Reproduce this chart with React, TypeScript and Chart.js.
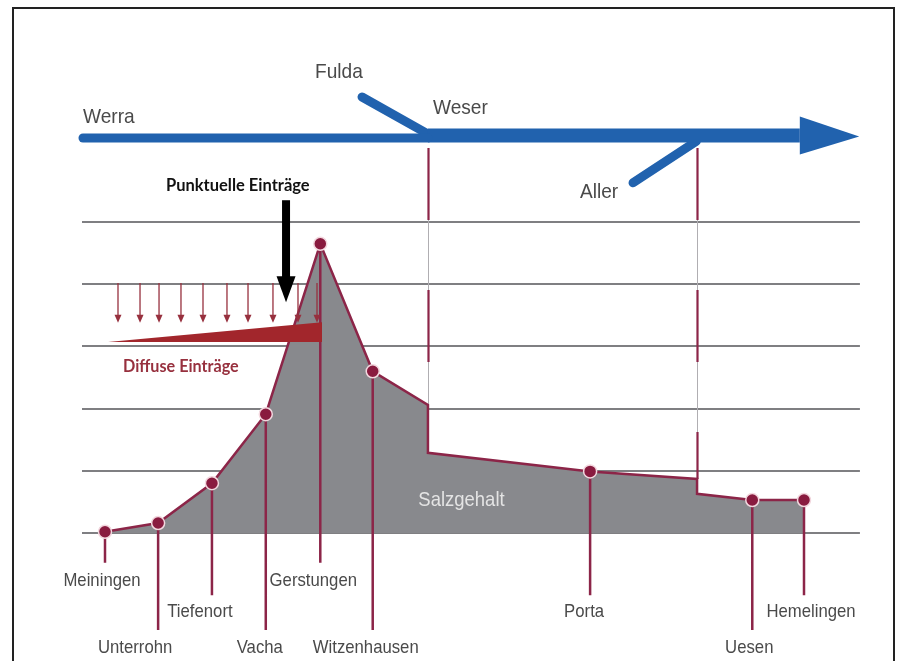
import React, { useEffect, useRef } from 'react';
import { Chart, registerables } from 'chart.js';

Chart.register(...registerables);

// ---------------- data ----------------
const stationNames = ['Meiningen', 'Unterrohn', 'Tiefenort', 'Vacha', 'Gerstungen', 'Witzenhausen', 'Porta', 'Uesen', 'Hemelingen'];
const stationKm = [0, 7.6, 15.3, 23.0, 30.8, 38.3, 69.4, 92.6, 100];
const stationSalt = [0.02, 0.16, 0.8, 1.91, 4.65, 2.6, 0.99, 0.53, 0.53];
const stationLabelRow = [0, 2, 1, 2, 0, 2, 1, 2, 1];

// salt profile incl. the steps at the confluences (Fulda, Aller)
const profileKm = [0, 7.6, 15.3, 23.0, 30.8, 38.3, 46.2, 46.2, 69.4, 84.7, 84.7, 92.6, 100];
const profileSalt = [0.02, 0.16, 0.8, 1.91, 4.65, 2.6, 2.06, 1.29, 0.99, 0.87, 0.63, 0.53, 0.53];

const confluenceKm = [46.2, 84.7];
const confluenceSaltBefore = [2.06, 0.87];

const gridLevels = [0, 1, 2, 3, 4, 5];

// schematic rivers
const werraKm = [-3.15, 46.2];
const werraLevel = [6.35, 6.35];
const weserKm = [46.2, 99.4];
const weserLevel = [6.39, 6.39];
const fuldaKm = [36.77, 46.1];
const fuldaLevel = [7.01, 6.42];
const allerKm = [75.54, 84.6];
const allerLevel = [5.63, 6.3];
const weserMouthKm = 107.9;

const riverNames = ['Werra', 'Fulda', 'Weser', 'Aller'];

// inputs
const diffuseArrowKm = [1.86, 5.01, 7.73, 10.87, 14.02, 17.45, 20.46, 24.03, 27.61, 30.33];
const diffuseWedgeKm = [0.43, 31.04];
const diffuseWedgeTop = [3.07, 3.39];
const pointLoadKm = 25.9;

// ---------------- layout / style ----------------
const W = 897;
const H = 661;
const PX_PER_KM = 6.99;
const PX_PER_UNIT = 62.2;
const X0_PX = 105;
const Y0_PX = 533;
const X_MIN = -X0_PX / PX_PER_KM;
const X_MAX = (W - X0_PX) / PX_PER_KM;
const Y_MIN = -(H - Y0_PX) / PX_PER_UNIT;
const Y_MAX = Y0_PX / PX_PER_UNIT;

const gridFromKm = -3.29;
const gridToKm = 108.0;
const confluenceMarkTop = 6.19;
const rowStemEnd = [-0.48, -1.0, -1.56];
const rowLabelY = [-0.76, -1.26, -1.84];
const stationLabelShiftPx = [-3, -23, -12, -6, -7, -7, -6, -3, 7];
const riverLabelPos = [
  { km: -3.15, v: 6.69 },
  { km: 30.04, v: 7.41 },
  { km: 46.92, v: 6.83 },
  { km: 67.95, v: 5.48 },
];
const salzPos = { km: 51.0, v: 0.53 };
const punktPos = { km: 19.0, v: 5.58 };
const diffusePos = { km: 2.58, v: 2.67 };
const diffuseArrowTop = 4.02;
const diffuseArrowBottom = 3.38;
const pointArrowTop = 5.35;
const pointArrowTip = 3.71;

const C = {
  maroon: '#8c2548',
  marker: '#891b3f',
  ring: '#f3d8df',
  area: '#88898d',
  grid: '#7f7f82',
  junction: '#b0aeb2',
  river: '#2162ae',
  text: '#4a4a4a',
  wedge: '#a2262c',
  diffuse: '#97303e',
  salz: '#e4e4e4',
};

const SANS = '"Liberation Sans", Arial, sans-serif';
const BOLD_FONT = 'bold 16.5px Lato, "Open Sans", sans-serif';

const pts = (xs: number[], ys: number[]) => xs.map((x, i) => ({ x, y: ys[i] }));

function condensedText(ctx: CanvasRenderingContext2D, text: string, x: number, y: number, align: CanvasTextAlign, sx: number) {
  ctx.save();
  ctx.translate(x, y);
  ctx.scale(sx, 1);
  ctx.textAlign = align;
  ctx.textBaseline = 'middle';
  ctx.fillText(text, 0, 0);
  ctx.restore();
}

const diagramPlugin = {
  id: 'diagram',
  beforeDatasetsDraw(chart: any) {
    const { ctx } = chart;
    const { x, y } = chart.scales;
    ctx.save();
    const gx0 = x.getPixelForValue(gridFromKm);
    const gx1 = x.getPixelForValue(gridToKm);
    ctx.strokeStyle = C.grid;
    ctx.lineWidth = 2;
    gridLevels.forEach((l) => {
      const py = Math.round(y.getPixelForValue(l));
      ctx.beginPath();
      ctx.moveTo(gx0, py);
      ctx.lineTo(gx1, py);
      ctx.stroke();
    });
    confluenceKm.forEach((k, i) => {
      const px = Math.round(x.getPixelForValue(k)) + 0.5;
      const top = y.getPixelForValue(confluenceMarkTop);
      const bot = y.getPixelForValue(confluenceSaltBefore[i]);
      ctx.setLineDash([]);
      ctx.strokeStyle = C.junction;
      ctx.lineWidth = 1;
      ctx.beginPath();
      ctx.moveTo(px, top);
      ctx.lineTo(px, bot);
      ctx.stroke();
      ctx.setLineDash([72, 70]);
      ctx.strokeStyle = C.maroon;
      ctx.lineWidth = 2.2;
      ctx.beginPath();
      ctx.moveTo(px, top);
      ctx.lineTo(px, bot);
      ctx.stroke();
    });
    ctx.restore();
  },
  afterDatasetsDraw(chart: any) {
    const { ctx } = chart;
    const { x, y } = chart.scales;
    ctx.save();

    // Weser arrow head
    const bx = x.getPixelForValue(weserKm[1]);
    const tx = x.getPixelForValue(weserMouthKm);
    const cy = y.getPixelForValue(weserLevel[1]);
    ctx.fillStyle = C.river;
    ctx.beginPath();
    ctx.moveTo(bx, cy - 19);
    ctx.lineTo(tx, cy + 1);
    ctx.lineTo(bx, cy + 19);
    ctx.closePath();
    ctx.fill();

    // diffuse wedge
    ctx.fillStyle = C.wedge;
    ctx.beginPath();
    ctx.moveTo(x.getPixelForValue(diffuseWedgeKm[0]), y.getPixelForValue(diffuseWedgeTop[0]));
    ctx.lineTo(x.getPixelForValue(diffuseWedgeKm[1]), y.getPixelForValue(diffuseWedgeTop[1]));
    ctx.lineTo(x.getPixelForValue(diffuseWedgeKm[1]), y.getPixelForValue(diffuseWedgeTop[0]));
    ctx.closePath();
    ctx.fill();

    // diffuse arrows
    ctx.strokeStyle = C.diffuse;
    ctx.fillStyle = C.diffuse;
    ctx.lineWidth = 1.3;
    const at = y.getPixelForValue(diffuseArrowTop);
    const ab = y.getPixelForValue(diffuseArrowBottom);
    diffuseArrowKm.forEach((k) => {
      const px = x.getPixelForValue(k);
      ctx.beginPath();
      ctx.moveTo(px, at);
      ctx.lineTo(px, ab - 6);
      ctx.stroke();
      ctx.beginPath();
      ctx.moveTo(px - 3.5, ab - 8);
      ctx.lineTo(px + 3.5, ab - 8);
      ctx.lineTo(px, ab);
      ctx.closePath();
      ctx.fill();
    });

    // point load arrow
    const px = x.getPixelForValue(pointLoadKm);
    const pt = y.getPixelForValue(pointArrowTop);
    const pb = y.getPixelForValue(pointArrowTip);
    ctx.fillStyle = '#000';
    ctx.fillRect(px - 4, pt, 8, pb - pt - 24);
    ctx.beginPath();
    ctx.moveTo(px - 9.5, pb - 26);
    ctx.lineTo(px + 9.5, pb - 26);
    ctx.lineTo(px, pb);
    ctx.closePath();
    ctx.fill();

    // texts
    ctx.fillStyle = C.text;
    ctx.font = `19px ${SANS}`;
    stationNames.forEach((n, i) => {
      condensedText(
        ctx,
        n,
        x.getPixelForValue(stationKm[i]) + stationLabelShiftPx[i],
        y.getPixelForValue(rowLabelY[stationLabelRow[i]]),
        'center',
        0.88,
      );
    });
    ctx.font = `21px ${SANS}`;
    riverNames.forEach((n, i) => {
      condensedText(ctx, n, x.getPixelForValue(riverLabelPos[i].km), y.getPixelForValue(riverLabelPos[i].v), 'left', 0.91);
    });
    ctx.fillStyle = C.salz;
    ctx.font = `21px ${SANS}`;
    condensedText(ctx, 'Salzgehalt', x.getPixelForValue(salzPos.km), y.getPixelForValue(salzPos.v), 'center', 0.88);

    ctx.font = BOLD_FONT;
    ctx.fillStyle = '#111';
    condensedText(ctx, 'Punktuelle Einträge', x.getPixelForValue(punktPos.km), y.getPixelForValue(punktPos.v), 'center', 1);
    ctx.fillStyle = C.diffuse;
    condensedText(ctx, 'Diffuse Einträge', x.getPixelForValue(diffusePos.km), y.getPixelForValue(diffusePos.v), 'left', 0.98);

    ctx.restore();
  },
};

export default function App() {
  const ref = useRef<HTMLCanvasElement>(null);
  useEffect(() => {
    const canvas = ref.current;
    if (!canvas) return;

    const stemData: { x: number; y: number | null }[] = [];
    stationKm.forEach((k, i) => {
      stemData.push({ x: k, y: stationSalt[i] });
      stemData.push({ x: k, y: rowStemEnd[stationLabelRow[i]] });
      stemData.push({ x: k, y: null });
    });

    const riverDs = (xs: number[], ys: number[], w: number, cap: CanvasLineCap) => ({
      type: 'line' as const,
      data: pts(xs, ys),
      borderColor: C.river,
      borderWidth: w,
      borderCapStyle: cap,
      pointRadius: 0,
      fill: false,
      tension: 0,
      clip: false as any,
      order: 3,
    });

    const chart = new Chart(canvas, {
      type: 'line',
      data: {
        datasets: [
          {
            data: pts(stationKm, stationSalt),
            showLine: false,
            pointRadius: 6.5,
            pointBackgroundColor: C.marker,
            pointBorderColor: C.ring,
            pointBorderWidth: 1.5,
            clip: false as any,
            order: 1,
          },
          {
            data: stemData as any,
            borderColor: C.maroon,
            borderWidth: 2.5,
            pointRadius: 0,
            spanGaps: false,
            fill: false,
            clip: false as any,
            order: 4,
          },
          riverDs(werraKm, werraLevel, 9, 'round'),
          riverDs(weserKm, weserLevel, 14, 'butt'),
          riverDs(fuldaKm, fuldaLevel, 9, 'round'),
          riverDs(allerKm, allerLevel, 9, 'round'),
          {
            data: pts(profileKm, profileSalt),
            borderColor: C.maroon,
            borderWidth: 2.5,
            backgroundColor: C.area,
            fill: 'origin',
            pointRadius: 0,
            tension: 0,
            clip: false as any,
            order: 5,
          },
        ],
      },
      options: {
        animation: false,
        responsive: false,
        events: [],
        layout: { padding: 0, autoPadding: false },
        scales: {
          x: { type: 'linear', display: false, min: X_MIN, max: X_MAX },
          y: { type: 'linear', display: false, min: Y_MIN, max: Y_MAX },
        },
        plugins: { legend: { display: false }, tooltip: { enabled: false } },
      },
      plugins: [diagramPlugin],
    });
    return () => chart.destroy();
  }, []);

  return (
    <div style={{ position: 'fixed', left: 0, top: 0, width: W, height: H, background: '#fff', overflow: 'hidden' }}>
      <canvas ref={ref} width={W} height={H} style={{ position: 'absolute', left: 0, top: 0, width: W, height: H }} />
      <div
        style={{
          position: 'absolute',
          left: 12,
          top: 7,
          width: 879,
          height: H + 20,
          borderTop: '2px solid #222',
          borderLeft: '2px solid #222',
          borderRight: '2px solid #222',
          pointerEvents: 'none',
        }}
      />
    </div>
  );
}
